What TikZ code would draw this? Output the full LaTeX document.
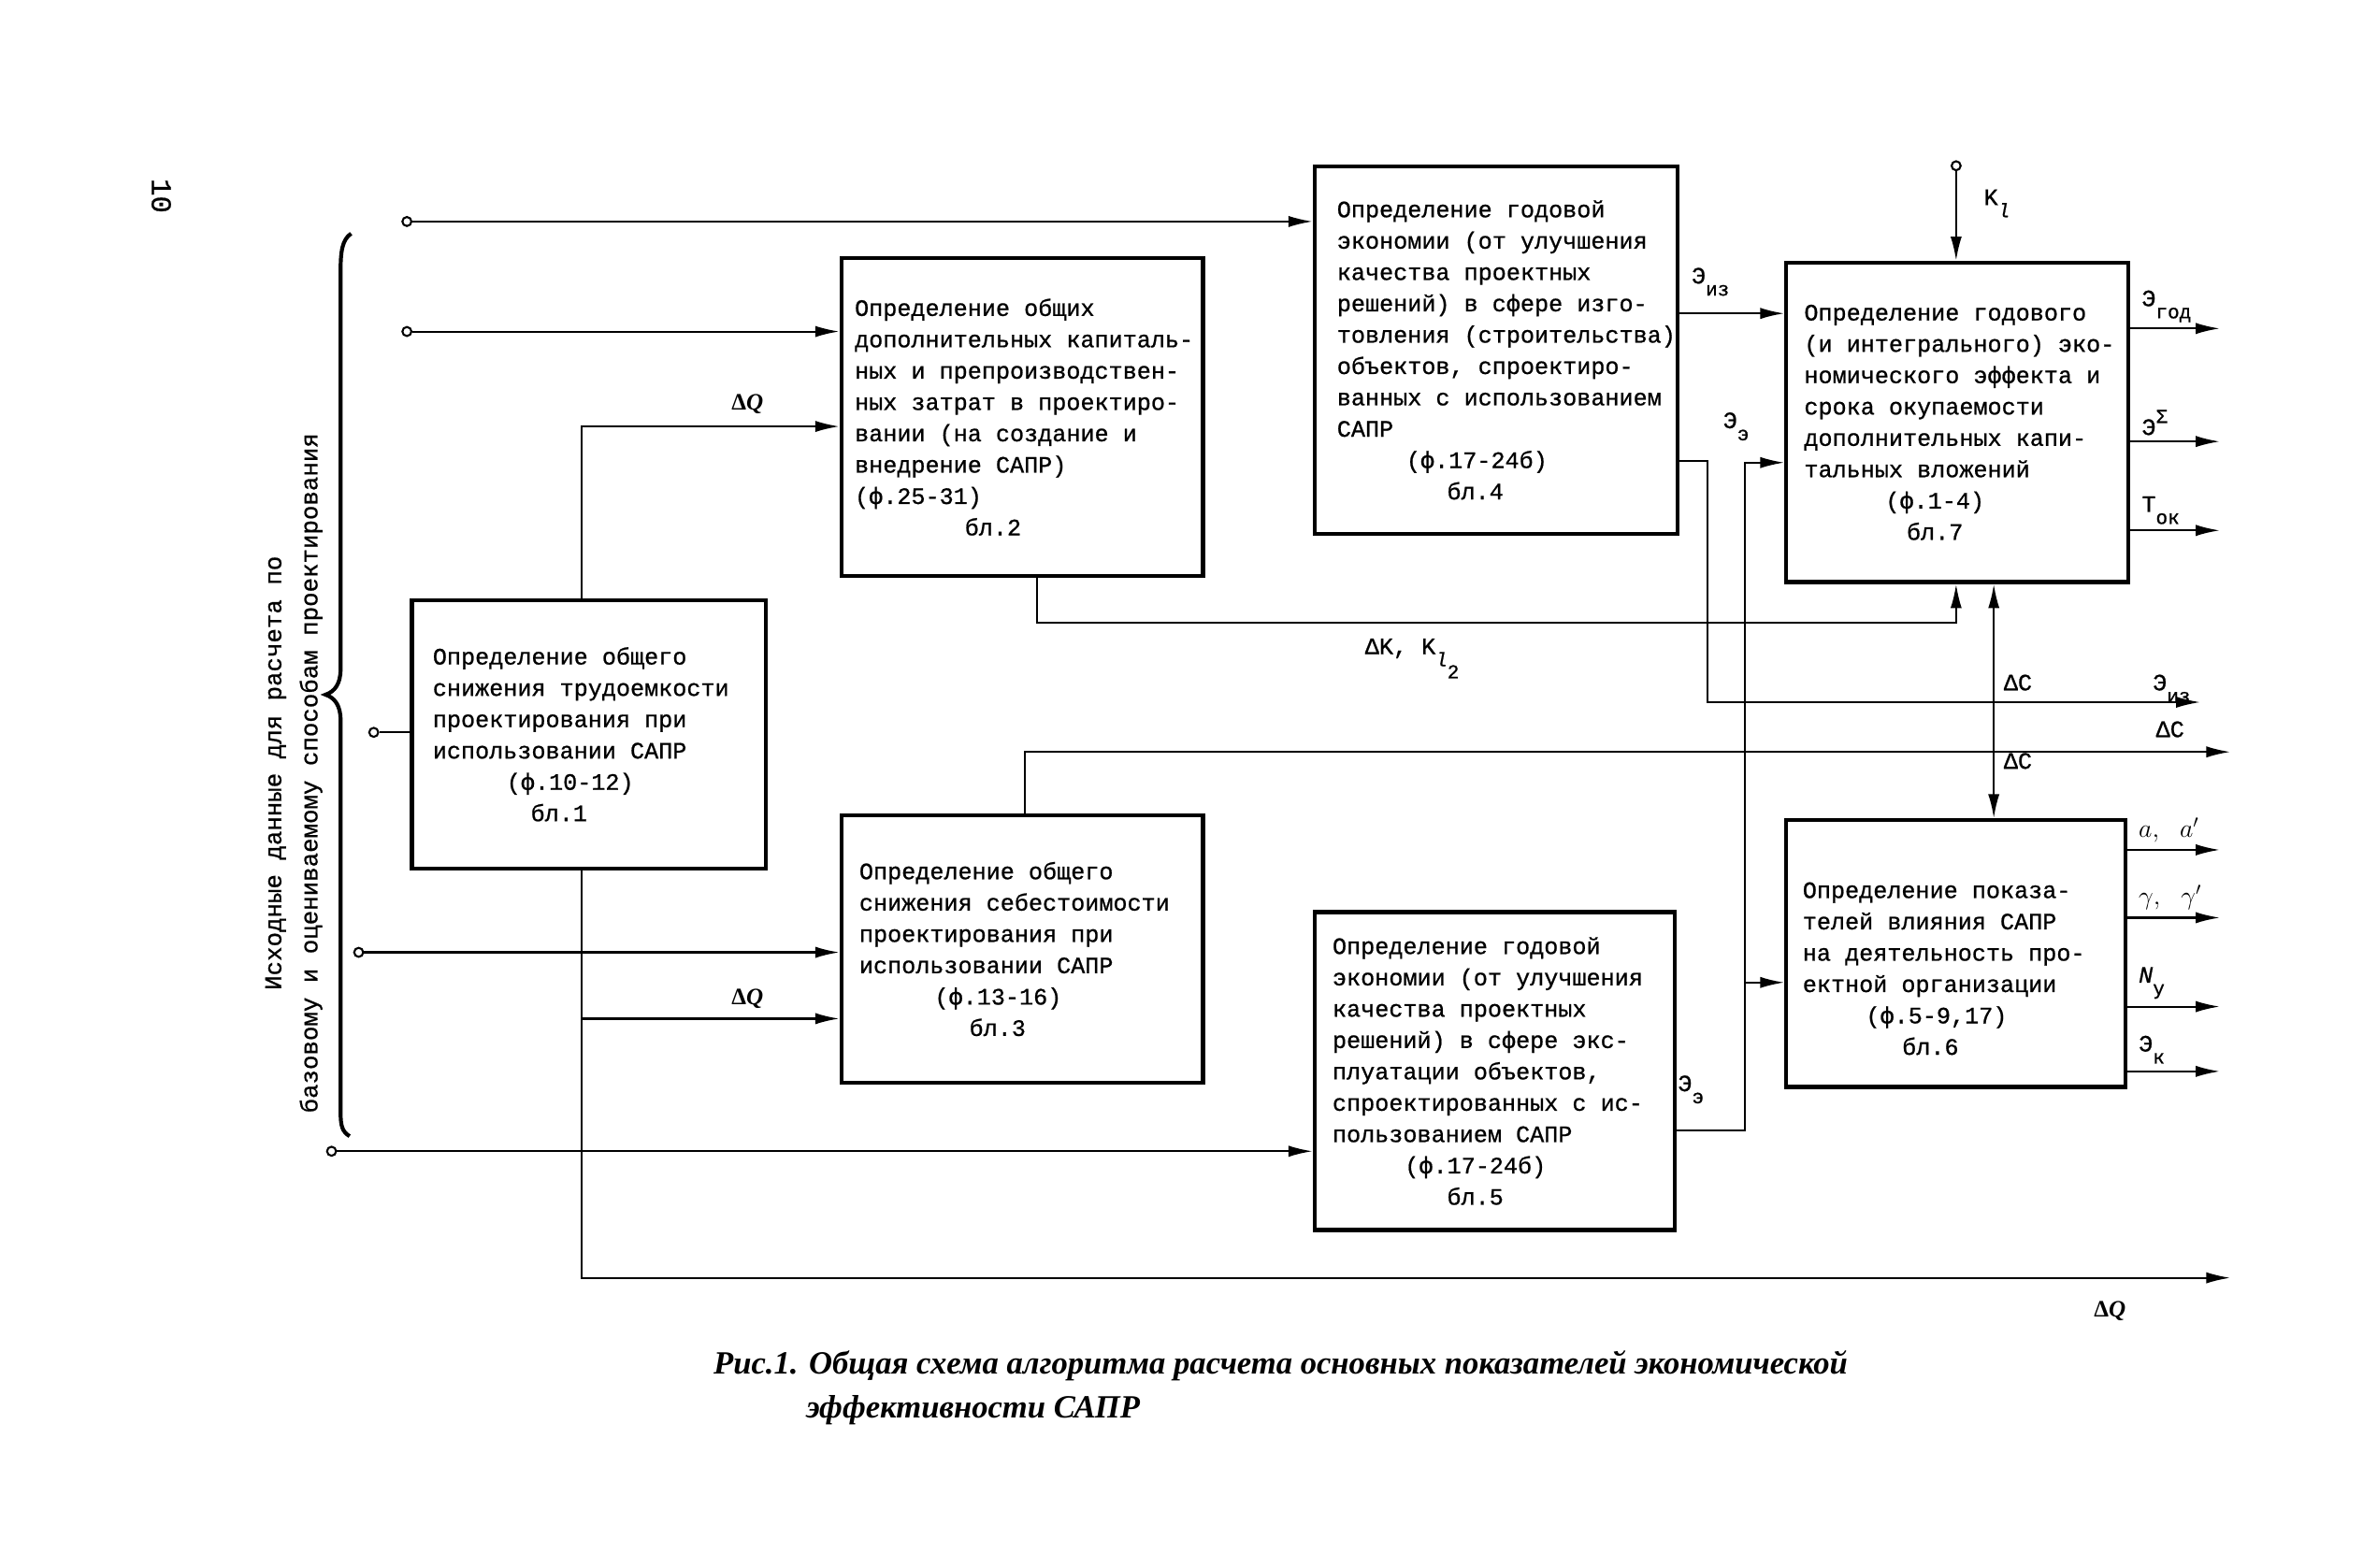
\documentclass[tikz,border=0pt]{standalone}
\usepackage{fontspec}
\setmainfont{Liberation Mono}[FakeBold=0.8]
\newfontfamily\podpisfont{Liberation Serif}
\usetikzlibrary{arrows.meta,positioning}

% lowered / raised index in the typewriter manner
\newcommand{\nizh}[2]{#1\raisebox{-8pt}{\fontsize{13}{13}\selectfont #2}}
\newcommand{\verkh}[2]{#1\raisebox{8pt}{\fontsize{13}{13}\selectfont #2}}

\tikzset{
  blok/.style={draw, line width=2.6pt, anchor=north west, inner sep=0pt},
  tekst/.style={align=left, inner sep=0pt, font=\fontsize{15.6}{20.8}\selectfont},
  liniya/.style={line width=1.3pt},
  strl/.style={liniya, -{Latex[length=16pt,width=7.5pt]}},
  vhod/.style={circle, draw, line width=1.3pt, inner sep=0pt, minimum size=6pt, fill=white},
  metka/.style={inner sep=0pt, font=\fontsize{15.6}{18}\selectfont},
  metkab/.style={inner sep=0pt, font=\fontsize{18}{20}\selectfont},
}

\begin{document}
\begin{tikzpicture}[x=1pt,y=-1pt]
  \useasboundingbox (0,0) rectangle (1568,1040);
  % blocks
  \node[blok, minimum width=235pt, minimum height=178pt] (b1) at (272,397) {};
  \node[blok, minimum width=240pt, minimum height=211pt] (b2) at (557,170) {};
  \node[blok, minimum width=240pt, minimum height=177pt] (b3) at (557,540) {};
  \node[blok, minimum width=241pt, minimum height=244pt] (b4) at (871,109) {};
  \node[blok, minimum width=239pt, minimum height=211pt] (b5) at (871,604) {};
  \node[blok, minimum width=225pt, minimum height=177pt] (b6) at (1184,543) {};
  \node[blok, minimum width=227pt, minimum height=212pt] (b7) at (1184,173) {};
  % texts of the blocks
  \node[tekst, right=15pt of b1.west] (t1) {Определение общего\\снижения трудоемкости\\проектирования при\\использовании САПР\\\hspace*{49pt}(ф.10-12)\\\hspace*{65pt}бл.1};
  \node[tekst, right=10pt of b2.west] (t2) {Определение общих\\дополнительных капиталь-\\ных и препроизводствен-\\ных затрат в проектиро-\\вании (на создание и\\внедрение САПР)\\(ф.25-31)\\\hspace*{73pt}бл.2};
  \node[tekst, right=13pt of b3.west] (t3) {Определение общего\\снижения себестоимости\\проектирования при\\использовании САПР\\\hspace*{50pt}(ф.13-16)\\\hspace*{73pt}бл.3};
  \node[tekst, right=16pt of b4.west] (t4) {Определение годовой\\экономии (от улучшения\\качества проектных\\решений) в сфере изго-\\товления (строительства)\\объектов, спроектиро-\\ванных с использованием\\САПР\\\hspace*{46pt}(ф.17-24б)\\\hspace*{73pt}бл.4};
  \node[tekst, right=13pt of b5.west] (t5) {Определение годовой\\экономии (от улучшения\\качества проектных\\решений) в сфере экс-\\плуатации объектов,\\спроектированных с ис-\\пользованием САПР\\\hspace*{48pt}(ф.17-24б)\\\hspace*{76pt}бл.5};
  \node[tekst, right=12pt of b6.west, yshift=-10pt] (t6) {Определение показа-\\телей влияния САПР\\на деятельность про-\\ектной организации\\\hspace*{42pt}(ф.5-9,17)\\\hspace*{66pt}бл.6};
  \node[tekst, right=13pt of b7.west] (t7) {Определение годового\\(и интегрального) эко-\\номического эффекта и\\срока окупаемости\\дополнительных капи-\\тальных вложений\\\hspace*{54pt}(ф.1-4)\\\hspace*{68pt}бл.7};

  % initial data
  \draw[line width=2.6pt] (233,155) .. controls (227,159) and (226,167) .. (226,180)
    -- (226,444) .. controls (226,454) and (222,459) .. (216,461)
    .. controls (222,463) and (226,468) .. (226,478)
    -- (226,738) .. controls (226,747) and (227,751) .. (232,754);
  \node[rotate=90, align=center, font=\fontsize{16}{24}\selectfont] (iskh) at (195,513)
    {Исходные данные для расчета по\\базовому и оцениваемому способам проектирования};
  \node[rotate=-90, font=\fontsize{19}{19}\selectfont] (str) at (107,130) {10};
  \node[vhod] (v1) at (270,147) {};
  \node[vhod] (v2) at (270,220) {};
  \node[vhod] (v3) at (248,486) {};
  \node[vhod] (v4) at (238,632) {};
  \node[vhod] (v5) at (220,764) {};
  \draw[strl] (v1) -- (v1 -| b4.west);
  \draw[strl] (v2) -- (v2 -| b2.west);
  \draw[liniya] (v3) -- (v3 -| b1.west);
  \draw[strl] (v4) -- (v4 -| b3.west);
  \draw[strl] (v5) -- (v5 -| b5.west);

  % Delta Q
  \coordinate (dq1) at (386,283);
  \coordinate (dq3) at (386,676);
  \coordinate (dq0) at (386,848);
  \coordinate (dqk) at (1480,848);
  \draw[strl] (b1.north -| dq1) -- (dq1) -- (dq1 -| b2.west);
  \draw[strl] (b1.south -| dq0) -- (dq0) -- (dqk);
  \draw[strl] (dq3) -- (dq3 -| b3.west);
  \node[metka] (m_dq1) at (496,268) {{\podpisfont\bfseries Δ\textit{Q}}};
  \node[metka] (m_dq3) at (496,663) {{\podpisfont\bfseries Δ\textit{Q}}};
  \node[metka] (m_dq0) at (1400,870) {{\podpisfont\bfseries Δ\textit{Q}}};

  % Delta K and Delta C
  \coordinate (dk1) at (688,413);
  \coordinate (dk2) at (1298,413);
  \draw[strl] (b2.south -| dk1) -- (dk1) -- (dk2) -- (dk2 |- b7.south);
  \node[metka] (m_dk) at (937,437) {ΔK, \nizh{K}{\nizh{\textit{l}}{2}}};
  \coordinate (dc1) at (680,499);
  \coordinate (dck) at (1480,499);
  \draw[strl] (b3.north -| dc1) -- (dc1) -- (dck);
  \node[metka] (m_dck) at (1440,484) {ΔC};
  \coordinate (dc2) at (1323,450);
  \draw[liniya, {Latex[length=16pt,width=7.5pt]}-{Latex[length=16pt,width=7.5pt]}]
    (b7.south -| dc2) -- (b6.north -| dc2);
  \node[metka] (m_dc1) at (1339,453) {ΔC};
  \node[metka] (m_dc2) at (1339,505) {ΔC};

  % savings from blocks 4 and 5
  \coordinate (ei1) at (1112,208);
  \draw[strl] (ei1) -- (ei1 -| b7.west);
  \node[metka] (m_ei1) at (1135,187) {\nizh{Э}{из}};
  \coordinate (ei2) at (1133,306);
  \coordinate (eik) at (1460,466);
  \draw[strl] (b4.east |- ei2) -- (ei2) |- (eik);
  \node[metka] (m_eik) at (1441,457) {\nizh{Э}{из}};
  \coordinate (ee1) at (1158,750);
  \coordinate (ee2) at (1158,307);
  \coordinate (ee3) at (1158,652);
  \draw[strl] (b5.east |- ee1) -- (ee1) -- (ee2) -- (ee2 -| b7.west);
  \draw[strl] (ee3) -- (ee3 -| b6.west);
  \node[metka] (m_ee1) at (1152,283) {\nizh{Э}{э}};
  \node[metka] (m_ee2) at (1122,723) {\nizh{Э}{э}};

  % K_l
  \node[vhod] (vk) at (1298,110) {};
  \draw[strl] (vk) -- (vk |- b7.north);
  \node[metka] (m_kl) at (1325,135) {\nizh{K}{\textit{l}}};

  % outputs
  \foreach \y/\nm/\lab in {218/1/{\nizh{Э}{год}}, 293/2/{\verkh{Э}{Σ}}, 352/3/{\nizh{T}{ок}}} {
    \coordinate (o7\nm) at (1473,\y);
    \draw[strl] (b7.east |- o7\nm) -- (o7\nm);
    \node[metka, anchor=south west] (l7\nm) at (1421,\y-4) {\lab};
  }
  \foreach \y/\nm/\lab in {564/1/{$a,\ a'$}, 609/2/{$\gamma,\ \gamma'$}} {
    \coordinate (o6\nm) at (1473,\y);
    \draw[strl] (b6.east |- o6\nm) -- (o6\nm);
    \node[metkab, anchor=south west] (l6\nm) at (1419,\y-5) {\lab};
  }
  \foreach \y/\nm/\lab in {668/3/{\nizh{\textit{N}}{у}}, 711/4/{\nizh{Э}{к}}} {
    \coordinate (o6\nm) at (1473,\y);
    \draw[strl] (b6.east |- o6\nm) -- (o6\nm);
    \node[metka, anchor=south west] (l6\nm) at (1419,\y-5) {\lab};
  }

  % caption
  \node[anchor=north west, align=left, font=\podpisfont\bfseries\itshape\fontsize{21.5}{29}\selectfont] (podp) at (470,893)
    {Рис.1. Общая схема алгоритма расчета основных показателей экономической\\\phantom{Рис.1.\ }эффективности САПР};
\end{tikzpicture}
\end{document}
